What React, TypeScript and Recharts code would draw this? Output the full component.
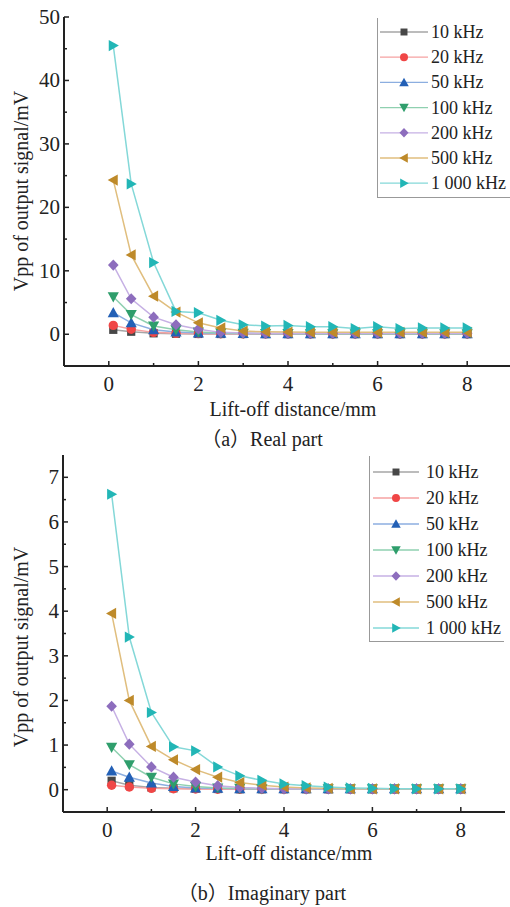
import React from 'react';
import { LineChart, Line, XAxis, YAxis, Legend } from 'recharts';

// ---------- data ----------
const liftOff = [0.1, 0.5, 1, 1.5, 2, 2.5, 3, 3.5, 4, 4.5, 5, 5.5, 6, 6.5, 7, 7.5, 8];
const frequencies = ['10 kHz', '20 kHz', '50 kHz', '100 kHz', '200 kHz', '500 kHz', '1 000 kHz'];

// (a) Real part, Vpp in mV
const real10k = [0.7, 0.4, 0.15, 0.08, 0.05, 0.04, 0.04, 0.03, 0.03, 0.03, 0.03, 0.03, 0.03, 0.03, 0.03, 0.03, 0.03];
const real20k = [1.4, 0.8, 0.3, 0.15, 0.1, 0.08, 0.07, 0.06, 0.06, 0.05, 0.05, 0.05, 0.05, 0.05, 0.05, 0.05, 0.05];
const real50k = [3.4, 1.8, 0.7, 0.35, 0.2, 0.15, 0.12, 0.1, 0.1, 0.1, 0.1, 0.1, 0.1, 0.1, 0.1, 0.1, 0.1];
const real100k = [5.9, 3.1, 1.3, 0.7, 0.35, 0.2, 0.15, 0.12, 0.12, 0.1, 0.1, 0.1, 0.1, 0.1, 0.1, 0.1, 0.1];
const real200k = [10.9, 5.6, 2.7, 1.5, 0.8, 0.3, 0.2, 0.15, 0.15, 0.15, 0.15, 0.15, 0.15, 0.15, 0.15, 0.15, 0.15];
const real500k = [24.3, 12.5, 6.0, 3.5, 1.8, 1.0, 0.5, 0.4, 0.35, 0.3, 0.3, 0.3, 0.3, 0.3, 0.3, 0.3, 0.3];
const real1000k = [45.5, 23.7, 11.3, 3.6, 3.4, 2.2, 1.5, 1.3, 1.4, 1.2, 1.2, 0.9, 1.2, 0.9, 1.0, 1.0, 1.0];

// (b) Imaginary part, Vpp in mV
const imag10k = [0.2, 0.1, 0.05, 0.03, 0.02, 0.015, 0.01, 0.01, 0.01, 0.01, 0.01, 0.01, 0.01, 0.01, 0.01, 0.01, 0.01];
const imag20k = [0.1, 0.06, 0.03, 0.02, 0.015, 0.01, 0.01, 0.01, 0.01, 0.01, 0.01, 0.01, 0.01, 0.01, 0.01, 0.01, 0.01];
const imag50k = [0.42, 0.28, 0.15, 0.07, 0.04, 0.03, 0.02, 0.02, 0.02, 0.02, 0.02, 0.02, 0.02, 0.02, 0.02, 0.02, 0.02];
const imag100k = [0.95, 0.56, 0.28, 0.13, 0.07, 0.04, 0.03, 0.02, 0.02, 0.02, 0.02, 0.02, 0.02, 0.02, 0.02, 0.02, 0.02];
const imag200k = [1.87, 1.02, 0.51, 0.28, 0.17, 0.09, 0.05, 0.03, 0.02, 0.02, 0.02, 0.02, 0.02, 0.02, 0.02, 0.02, 0.02];
const imag500k = [3.95, 2.0, 0.97, 0.67, 0.45, 0.28, 0.16, 0.1, 0.06, 0.04, 0.03, 0.02, 0.02, 0.02, 0.02, 0.02, 0.02];
const imag1000k = [6.62, 3.42, 1.73, 0.96, 0.87, 0.51, 0.31, 0.21, 0.13, 0.09, 0.06, 0.04, 0.03, 0.02, 0.02, 0.02, 0.02];

const realSeries = [real10k, real20k, real50k, real100k, real200k, real500k, real1000k];
const imagSeries = [imag10k, imag20k, imag50k, imag100k, imag200k, imag500k, imag1000k];

const xTicks = [0, 1, 2, 3, 4, 5, 6, 7, 8];
const realYTicks = [0, 5, 10, 15, 20, 25, 30, 35, 40, 45, 50];
const imagYTicks = [0, 0.5, 1, 1.5, 2, 2.5, 3, 3.5, 4, 4.5, 5, 5.5, 6, 6.5, 7];

// ---------- styles ----------
const markerColors = ['#474747', '#f04646', '#2360b6', '#2f9e6c', '#8d6dbd', '#be8a2a', '#22b6b6'];
const lineColors = ['#a6a6a6', '#f6a2a2', '#8caee0', '#8fd0b0', '#c6b0e4', '#e0be7e', '#84d8d8'];
const shapes = ['square', 'circle', 'up', 'down', 'diamond', 'left', 'right'];

const SERIF = '"Liberation Serif", "Noto Sans CJK SC", serif';
const INK = '#222';

function buildRows(series: number[][]) {
  return liftOff.map((x, i) => {
    const row: Record<string, number> = { x };
    series.forEach((s, j) => {
      row['s' + j] = s[i];
    });
    return row;
  });
}

const realRows = buildRows(realSeries);
const imagRows = buildRows(imagSeries);

function shapePath(shape: string, cx: number, cy: number, k: number) {
  const a = 5.6 * k;
  const b = 4.5 * k;
  switch (shape) {
    case 'square': {
      const h = 4.1 * k;
      return `M${cx - h},${cy - h}H${cx + h}V${cy + h}H${cx - h}Z`;
    }
    case 'circle': {
      const r = 4.7 * k;
      return `M${cx - r},${cy}A${r},${r} 0 1,0 ${cx + r},${cy}A${r},${r} 0 1,0 ${cx - r},${cy}Z`;
    }
    case 'up':
      return `M${cx},${cy - a}L${cx + a},${cy + b}L${cx - a},${cy + b}Z`;
    case 'down':
      return `M${cx},${cy + a}L${cx + a},${cy - b}L${cx - a},${cy - b}Z`;
    case 'diamond':
      return `M${cx},${cy - a}L${cx + a * 0.95},${cy}L${cx},${cy + a}L${cx - a * 0.95},${cy}Z`;
    case 'left':
      return `M${cx - a},${cy}L${cx + b},${cy - a}L${cx + b},${cy + a}Z`;
    default:
      return `M${cx + a},${cy}L${cx - b},${cy - a}L${cx - b},${cy + a}Z`;
  }
}

function dotRenderer(j: number, tag: string) {
  return (p: any) => {
    if (p.cx == null || p.cy == null) return <g key={`${tag}-${j}-${p.index}`} />;
    return <path key={`${tag}-${j}-${p.index}`} d={shapePath(shapes[j], p.cx, p.cy, 1)} fill={markerColors[j]} />;
  };
}

function XTick(props: any) {
  const { x, y, payload } = props;
  const v = payload.value;
  const major = v % 2 === 0;
  return (
    <g>
      <line x1={x} y1={y} x2={x} y2={y - (major ? 5 : 3)} stroke={INK} strokeWidth={1.5} />
      {major && (
        <text x={x} y={y + 25} textAnchor="middle" fontFamily={SERIF} fontSize={21} fill={INK}>
          {v}
        </text>
      )}
    </g>
  );
}

function makeYTick(step: number) {
  return (props: any) => {
    const { x, y, payload } = props;
    const v = payload.value;
    const major = Math.abs(v / step - Math.round(v / step)) < 1e-6;
    return (
      <g>
        <line x1={x} y1={y} x2={x + (major ? 5 : 3)} y2={y} stroke={INK} strokeWidth={1.5} />
        {major && (
          <text x={x - 4} y={y + 7} textAnchor="end" fontFamily={SERIF} fontSize={21} fill={INK}>
            {v}
          </text>
        )}
      </g>
    );
  };
}

function makeLegend(first: number, gap: number, lineX0: number, lineX1: number, markX: number, textX: number, w: number, h: number) {
  return () => (
    <svg width={w} height={h} style={{ display: 'block' }}>
      {frequencies.map((f, j) => {
        const cy = first + j * gap;
        return (
          <g key={f}>
            <line x1={lineX0} y1={cy} x2={lineX1} y2={cy} stroke={lineColors[j]} strokeWidth={1.3} />
            <path d={shapePath(shapes[j], markX, cy, 0.85)} fill={markerColors[j]} />
            <text x={textX} y={cy + 6} fontFamily={SERIF} fontSize={18} fill={INK}>
              {f}
            </text>
          </g>
        );
      })}
    </svg>
  );
}

const axisLine = { stroke: INK, strokeWidth: 2 };

type PanelProps = {
  rows: Record<string, number>[];
  width: number;
  height: number;
  margin: { top: number; right: number; bottom: number; left: number };
  yWidth: number;
  yDomain: [number, number];
  yTicks: number[];
  yStep: number;
  legendStyle: React.CSSProperties;
  legendContent: () => React.ReactElement;
  tag: string;
};

function Panel(p: PanelProps) {
  return (
    <LineChart width={p.width} height={p.height} data={p.rows} margin={p.margin}>
      <XAxis
        dataKey="x"
        type="number"
        domain={[-1, 9]}
        ticks={xTicks}
        interval={0}
        tickSize={0}
        tickMargin={0}
        tickLine={false}
        tick={<XTick />}
        axisLine={axisLine}
        height={40}
        allowDataOverflow
      />
      <XAxis
        xAxisId="top"
        orientation="top"
        dataKey="x"
        type="number"
        domain={[-1, 9]}
        height={0}
        tick={false}
        tickLine={false}
        axisLine={axisLine}
        allowDataOverflow
      />
      <YAxis
        type="number"
        domain={p.yDomain}
        ticks={p.yTicks}
        interval={0}
        tickSize={0}
        tickMargin={0}
        tickLine={false}
        tick={makeYTick(p.yStep)}
        axisLine={axisLine}
        width={p.yWidth}
        allowDataOverflow
      />
      <YAxis
        yAxisId="right"
        orientation="right"
        type="number"
        domain={p.yDomain}
        width={0}
        tick={false}
        tickLine={false}
        axisLine={axisLine}
        allowDataOverflow
      />
      <Legend
        layout="vertical"
        align="center"
        verticalAlign="middle"
        wrapperStyle={p.legendStyle}
        content={p.legendContent}
      />
      {frequencies.map((f, j) => (
        <Line
          key={f}
          dataKey={'s' + j}
          name={f}
          type="linear"
          stroke={lineColors[j]}
          strokeWidth={1.5}
          dot={dotRenderer(j, p.tag)}
          activeDot={false}
          isAnimationActive={false}
        />
      ))}
    </LineChart>
  );
}

export default function App() {
  const yTitle = 'Vpp of output signal/mV';
  const xTitle = 'Lift-off distance/mm';
  return (
    <div style={{ position: 'absolute', left: 0, top: 0, width: 510, height: 907, overflow: 'hidden', background: '#fff' }}>
      <div style={{ position: 'absolute', left: 0, top: 0 }}>
        <Panel
          tag="re"
          rows={realRows}
          width={512}
          height={440}
          margin={{ top: 17, right: 0, bottom: 34, left: 0 }}
          yWidth={64}
          yDomain={[-5, 50]}
          yTicks={realYTicks}
          yStep={10}
          legendStyle={{ left: 377, top: 18, width: 140, height: 180, borderLeft: '1px solid #999', borderBottom: '1px solid #999', boxSizing: 'border-box' }}
          legendContent={makeLegend(14, 25.2, 2, 50, 26, 53, 140, 180)}
        />
      </div>
      <div style={{ position: 'absolute', left: 0, top: 440 }}>
        <Panel
          tag="im"
          rows={imagRows}
          width={510}
          height={440}
          margin={{ top: 15, right: 5, bottom: 28, left: 0 }}
          yWidth={63}
          yDomain={[-0.5, 7.5]}
          yTicks={imagYTicks}
          yStep={1}
          legendStyle={{ left: 369, top: 16, width: 135, height: 186, borderLeft: '1px solid #999', borderBottom: '1px solid #999', boxSizing: 'border-box' }}
          legendContent={makeLegend(16, 26, 3, 49, 26, 56, 135, 186)}
        />
      </div>
      <svg width={510} height={907} style={{ position: 'absolute', left: 0, top: 0, pointerEvents: 'none' }}>
        <g fontFamily={SERIF} fill={INK}>
          <text x={28} y={191} fontSize={20} textAnchor="middle" transform="rotate(-90 28 191)">{yTitle}</text>
          <text x={293} y={416} fontSize={20} textAnchor="middle">{xTitle}</text>
          <text x={262} y={446} fontSize={20} textAnchor="middle">（a）Real part</text>
          <text x={28} y={647} fontSize={20} textAnchor="middle" transform="rotate(-90 28 647)">{yTitle}</text>
          <text x={289} y={860} fontSize={20} textAnchor="middle">{xTitle}</text>
          <text x={262} y={900} fontSize={20} textAnchor="middle">（b）Imaginary part</text>
        </g>
      </svg>
    </div>
  );
}
